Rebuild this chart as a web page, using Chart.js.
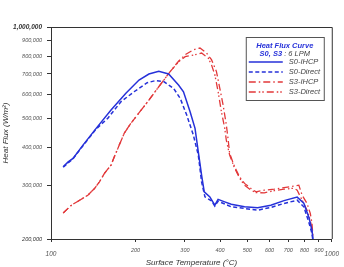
<!DOCTYPE html>
<html>
<head>
<meta charset="utf-8">
<script src="https://cdn.jsdelivr.net/npm/chart.js@4/dist/chart.umd.min.js"></script>
<style>
  html, body { margin: 0; padding: 0; background: #fff; }
  #wrap { width: 344px; height: 267px; }
</style>
</head>
<body>
<div id="wrap"><canvas id="c" width="344" height="267"></canvas></div>
<script>
// ---- data (surface temperature °C, heat flux W/m²) ----
const xTicks = [100, 200, 300, 400, 500, 600, 700, 800, 900, 1000];
const yTicks = [200000, 300000, 400000, 500000, 600000, 700000, 800000, 900000, 1000000];

const seriesNames = ['S0-IHCP', 'S0-Direct', 'S3-IHCP', 'S3-Direct'];

const s0IhcpT = [110.5,115.1,119.8,130.0,144.8,163.6,184.8,205.8,223.2,242.0,262.4,284.6,296.4,312.9,325.8,334.7,343.8,351.4,368.0,383.2,393.6,415.6,438.5,488.9,544.5,606.4,675.9,753.0,795.1,827.9,850.3,857.2];
const s0IhcpQ = [346000,359000,368700,407900,463100,532300,604300,668500,699700,714100,699700,643500,611700,525400,463100,387700,324900,286000,275400,258600,270100,265100,260500,255300,253700,258600,267600,274800,262500,236500,213800,200000];

const s0DirT = [110.5,119.8,130.0,144.8,159.2,177.4,197.6,220.1,236.1,252.0,273.3,288.6,304.4,321.4,334.7,343.8,353.4,372.9,383.2,393.6,438.5,488.9,544.5,606.4,675.9,753.0,795.1,827.9,850.3,855.0];
const s0DirQ = [345000,368000,406000,461000,499700,566800,611700,654900,665900,660900,627600,581600,512300,440100,378000,308700,275400,267200,256700,266600,255300,252200,248900,254100,262000,268500,255300,227700,208500,200000];

const s3IhcpT = [110.5,118.3,126.5,135.3,142.9,148.8,155.0,163.6,168.1,175.0,182.2,192.4,202.9,223.2,242.0,266.1,284.6,300.5,321.4,339.3,358.0,372.9,388.2,399.1,410.1,421.1,426.9,432.8,450.7,469.4,488.9,515.8,537.1,574.8,623.3,675.9,733.0,763.3,784.3,816.6,838.6,850.3,857.0];
const s3IhcpQ = [243800,258600,268500,278900,293500,308700,329100,350500,373200,407900,445800,481100,512300,574200,635300,714100,771000,810200,841200,852400,820700,780400,714100,629000,554000,476000,430200,383000,346000,320600,305000,293500,286000,289700,291900,295300,298700,301000,278900,262000,242700,225000,203200];

const s3DirT = [110.5,118.3,126.5,135.3,142.9,148.8,155.0,163.6,168.1,175.0,182.2,192.4,202.9,223.2,242.0,266.1,284.6,300.5,325.8,343.8,362.9,372.9,383.2,393.6,404.3,415.6,421.1,432.8,450.7,469.4,488.9,515.8,537.1,574.8,623.3,675.9,733.0,753.0,784.3,816.6,838.6,850.3,857.0];
const s3DirQ = [243800,258600,268500,278900,293500,308700,329100,350500,373200,407900,445800,481100,512300,574200,635300,714100,768000,798000,810200,820700,790500,751000,696000,613500,527000,464200,423800,378000,342500,317500,301000,289700,284300,283900,288700,291900,294100,289700,268500,248900,230700,213800,200000];

const pts = (t, q) => t.map((v, i) => ({ x: v, y: q[i] }));

const FONT = "'Liberation Sans', Arial, sans-serif";
const BLUE = '#2631d9';
const RED = '#e2383a';

const frameBox = {
  id: 'frameBox',
  afterDraw(chart) {
    const { ctx, chartArea: a } = chart;
    ctx.save();
    ctx.strokeStyle = '#333';
    ctx.lineWidth = 1;
    ctx.beginPath();
    ctx.moveTo(a.left, a.top + 0.5);
    ctx.lineTo(a.right + 0.5, a.top + 0.5);
    ctx.lineTo(a.right + 0.5, a.bottom);
    ctx.stroke();
    ctx.restore();
  }
};

const legendBox = {
  id: 'legendBox',
  afterDatasetsDraw(chart) {
    const { ctx, chartArea: a } = chart;
    const w = 78, h = 63;
    const x0 = a.right - 8 - w, y0 = a.top + 10;
    ctx.save();
    ctx.fillStyle = '#fff';
    ctx.fillRect(x0, y0, w, h);
    ctx.strokeStyle = '#555';
    ctx.lineWidth = 1;
    ctx.strokeRect(x0 + 0.5, y0 + 0.5, w, h);
    ctx.textBaseline = 'middle';
    // title
    ctx.fillStyle = BLUE;
    ctx.font = 'italic bold 7.5px ' + FONT;
    ctx.textAlign = 'center';
    ctx.fillText('Heat Flux Curve', x0 + w / 2, y0 + 8.5);
    // subtitle with mixed style
    ctx.textAlign = 'left';
    const p1 = 'S0, S3', p2 = ' : 6 LPM';
    ctx.font = 'italic bold 7.5px ' + FONT;
    const w1 = ctx.measureText(p1).width;
    ctx.font = 'italic 7.5px ' + FONT;
    const w2 = ctx.measureText(p2).width;
    let sx = x0 + w / 2 - (w1 + w2) / 2;
    ctx.font = 'italic bold 7.5px ' + FONT;
    ctx.fillStyle = BLUE;
    ctx.fillText(p1, sx, y0 + 17);
    ctx.font = 'italic 7.5px ' + FONT;
    ctx.fillStyle = '#444';
    ctx.fillText(p2, sx + w1, y0 + 17);
    // entries
    chart.data.datasets.forEach((ds, i) => {
      const yy = y0 + 25 + i * 10;
      ctx.save();
      ctx.strokeStyle = ds.borderColor;
      ctx.lineWidth = ds.borderWidth;
      ctx.setLineDash(ds.borderDash || []);
      ctx.beginPath();
      ctx.moveTo(x0 + 3, yy);
      ctx.lineTo(x0 + 37, yy);
      ctx.stroke();
      ctx.restore();
      ctx.fillStyle = '#444';
      ctx.font = 'italic 7.5px ' + FONT;
      ctx.textAlign = 'left';
      ctx.fillText(ds.label, x0 + 43, yy);
    });
    ctx.restore();
  }
};

const bigX = v => v === 100 || v === 1000;

new Chart(document.getElementById('c'), {
  type: 'line',
  data: {
    datasets: [
      { label: seriesNames[0], data: pts(s0IhcpT, s0IhcpQ), borderColor: BLUE, borderWidth: 1.5, borderDash: [] },
      { label: seriesNames[1], data: pts(s0DirT, s0DirQ), borderColor: BLUE, borderWidth: 1.5, borderDash: [4, 2.5] },
      { label: seriesNames[2], data: pts(s3IhcpT, s3IhcpQ), borderColor: RED, borderWidth: 1.3, borderDash: [7, 3, 1.5, 3] },
      { label: seriesNames[3], data: pts(s3DirT, s3DirQ), borderColor: RED, borderWidth: 1.3, borderDash: [7, 3, 1.5, 2, 1.5, 3] }
    ]
  },
  options: {
    responsive: false,
    animation: false,
    devicePixelRatio: 1,
    parsing: true,
    elements: { point: { radius: 0 }, line: { tension: 0, fill: false } },
    layout: { padding: { left: 0, top: 27, right: 9, bottom: 0 } },
    plugins: { legend: { display: false }, tooltip: { enabled: false }, title: { display: false } },
    scales: {
      x: {
        type: 'logarithmic',
        min: 100, max: 1000,
        afterBuildTicks: s => { s.ticks = xTicks.map(v => ({ value: v })); },
        afterFit: s => { s.height = 28; },
        grid: { display: true, drawOnChartArea: false, drawTicks: true, tickLength: 3, color: '#333' },
        border: { display: true, color: '#333', width: 1 },
        ticks: {
          autoSkip: false, maxRotation: 0, padding: 5,
          color: '#555',
          font: ctx => bigX(ctx.tick && ctx.tick.value)
            ? { family: FONT, size: 6.5, style: 'italic', lineHeight: 0.72 }
            : { family: FONT, size: 5.5, style: 'italic' },
          callback: v => bigX(v) ? ['', String(v)] : String(v)
        },
        title: {
          display: true, text: 'Surface Temperature (°C)', color: '#333',
          font: { family: FONT, size: 8, style: 'italic', lineHeight: 1 },
          padding: { top: 0, bottom: 0 }
        }
      },
      y: {
        type: 'logarithmic',
        min: 200000, max: 1000000,
        afterBuildTicks: s => { s.ticks = yTicks.map(v => ({ value: v })); },
        afterFit: s => { s.width = 51; },
        grid: { display: true, drawOnChartArea: false, drawTicks: true, tickLength: 4, color: '#333' },
        border: { display: true, color: '#333', width: 1 },
        ticks: {
          autoSkip: false, padding: 5,
          color: ctx => (ctx.tick && (ctx.tick.value === 1000000 || ctx.tick.value === 200000)) ? '#333' : '#555',
          font: ctx => (ctx.tick && ctx.tick.value === 1000000)
            ? { family: FONT, size: 6.5, style: 'italic', weight: 'bold' }
            : { family: FONT, size: 5.5, style: 'italic' },
          callback: v => Number(v).toLocaleString('en-US')
        },
        title: {
          display: true, text: 'Heat Flux (W/m²)', color: '#333',
          font: { family: FONT, size: 8, style: 'italic' },
          padding: { top: 1, bottom: 0 }
        }
      }
    }
  },
  plugins: [frameBox, legendBox]
});
</script>
</body>
</html>
